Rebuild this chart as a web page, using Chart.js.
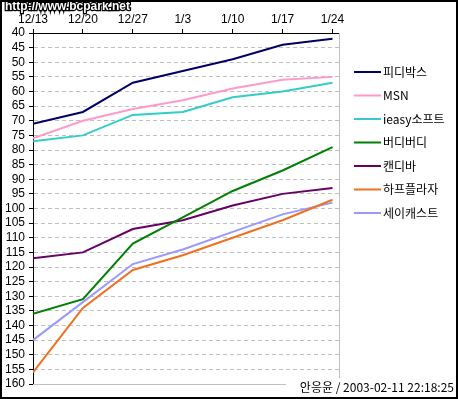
<!DOCTYPE html>
<html>
<head>
<meta charset="utf-8">
<script src="https://cdn.jsdelivr.net/npm/chart.js@4/dist/chart.umd.min.js"></script>
<style>
  html, body { margin: 0; padding: 0; background: #fff; }
  #wrap { width: 459px; height: 399px; }
</style>
</head>
<body>
<div id="wrap"><canvas id="chart" width="459" height="399"></canvas></div>
<script>
// weekly ranking (lower number = better, axis reversed)
const weeks = ['12/13', '12/20', '12/27', '1/3', '1/10', '1/17', '1/24'];
const names = ['피디박스', 'MSN', 'ieasy소프트', '버디버디', '캔디바', '하프플라자', '세이캐스트'];
const pidibox = [71, 67, 57, 53, 49, 44, 42];
const msn = [76, 70, 66, 63, 59, 56, 55];
const ieasy = [77, 75, 68, 67, 62, 60, 57];
const buddy = [136, 131, 112, 103, 94, 87, 79];
const candybar = [117, 115, 107, 104, 99, 95, 93];
const halfplaza = [156, 134, 121, 116, 110, 104, 97];
const saycast = [145, 132, 119, 114, 108, 102, 98];
const yTicks = { min: 40, max: 160, step: 5 };

const colors = ['#000066', '#ff99cc', '#33cccc', '#008000', '#660066', '#ee7020', '#9999ff'];
const allSeries = [pidibox, msn, ieasy, buddy, candybar, halfplaza, saycast];

Chart.defaults.font.family = '"Liberation Sans", Arial, sans-serif';
Chart.defaults.font.size = 12;
Chart.defaults.color = '#000';

const frame = {
  id: 'frame',
  beforeDatasetsDraw(chart) {
    const { ctx, chartArea: a } = chart;
    ctx.save();
    ctx.strokeStyle = '#c0c0c0';
    ctx.lineWidth = 1;
    ctx.beginPath();
    ctx.moveTo(a.left, Math.round(a.bottom) + 0.5);
    ctx.lineTo(Math.round(a.right) + 0.5, Math.round(a.bottom) + 0.5);
    ctx.lineTo(Math.round(a.right) + 0.5, a.top);
    ctx.stroke();
    ctx.restore();
  },
  afterDraw(chart) {
    const { ctx } = chart;
    ctx.save();
    // legend
    ctx.font = '12px "Noto Sans CJK KR", "Liberation Sans", sans-serif';
    ctx.textBaseline = 'middle';
    chart.data.datasets.forEach((ds, i) => {
      const y = 72 + i * 23.5;
      ctx.strokeStyle = ds.borderColor;
      ctx.lineWidth = 2;
      ctx.beginPath();
      ctx.moveTo(354, y);
      ctx.lineTo(381, y);
      ctx.stroke();
      ctx.fillStyle = '#000';
      ctx.fillText(ds.label, 383, y);
    });
    // stamp bottom right
    const stamp = '안응윤 / 2003-02-11 22:18:25';
    ctx.fillStyle = '#fff';
    ctx.fillRect(286, 378, 169, 17);
    ctx.fillStyle = '#000';
    ctx.textAlign = 'right';
    ctx.fillText(stamp, 454, 387, 167);
    // watermark
    ctx.textAlign = 'left';
    ctx.font = 'bold 12px "Liberation Sans", Arial, sans-serif';
    ctx.lineWidth = 2.5;
    ctx.strokeStyle = '#000';
    ctx.strokeText('http://www.bcpark.net', 5, 7, 149);
    ctx.fillStyle = '#fff';
    ctx.fillText('http://www.bcpark.net', 5, 7, 149);
    // outer border
    ctx.strokeStyle = '#000';
    ctx.lineWidth = 2;
    ctx.strokeRect(1, 1, 456, 397);
    ctx.restore();
  }
};

new Chart(document.getElementById('chart'), {
  type: 'line',
  data: {
    datasets: allSeries.map((vals, i) => ({
      label: names[i],
      data: vals.map((v, k) => ({ x: k, y: v })),
      borderColor: colors[i],
      backgroundColor: colors[i],
      borderWidth: 2,
      pointRadius: 0,
      tension: 0,
    })),
  },
  options: {
    responsive: false,
    animation: false,
    devicePixelRatio: 1,
    layout: { padding: { left: 0, top: 0, right: 120, bottom: 15 } },
    plugins: { legend: { display: false }, tooltip: { enabled: false } },
    scales: {
      x: {
        type: 'linear',
        position: 'top',
        min: 0,
        max: 6.13,
        afterBuildTicks: s => { s.ticks = weeks.map((_, i) => ({ value: i })); },
        afterFit: s => { s.height = 33; },
        ticks: { callback: v => weeks[v], padding: 2, maxRotation: 0, autoSkip: false },
        grid: { drawOnChartArea: false, drawTicks: true, tickLength: 4, tickColor: '#000' },
        border: { color: '#000', width: 1 },
      },
      y: {
        reverse: true,
        min: yTicks.min,
        max: yTicks.max,
        afterFit: s => { s.width = 33; },
        ticks: { stepSize: yTicks.step, padding: 4, autoSkip: false },
        grid: { color: '#c0c0c0', tickColor: '#000', tickLength: 4, tickBorderDash: [] },
        border: { color: '#000', width: 1, dash: [4, 3] },
      },
    },
  },
  plugins: [frame],
});
</script>
</body>
</html>
